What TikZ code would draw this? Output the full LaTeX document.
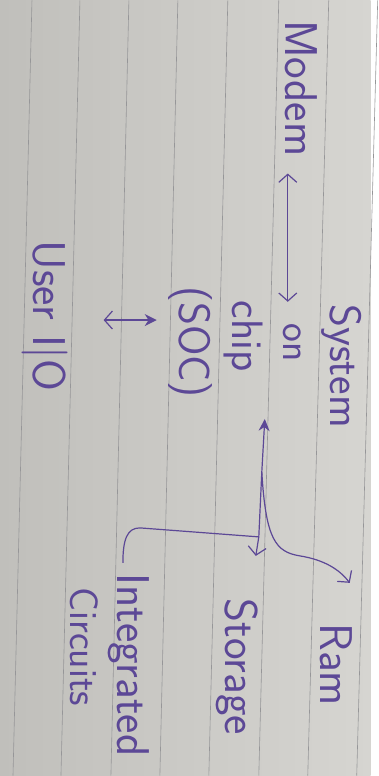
\documentclass[tikz,border=0pt]{standalone}
\usepackage{tikz}
\usetikzlibrary{arrows.meta,positioning}
\definecolor{ink}{RGB}{92,72,150}
\definecolor{paper}{RGB}{214,213,209}
\definecolor{paperdark}{RGB}{192,191,187}
\definecolor{ruleline}{RGB}{150,150,152}
\tikzstyle{word} = [rotate=-90, anchor=base, inner sep=0pt, text=ink, font=\sffamily\fontsize{44}{48}\selectfont]
\tikzstyle{bigword} = [word, font=\sffamily\fontsize{46}{50}\selectfont]
\tikzstyle{smallword} = [word, font=\sffamily\fontsize{40}{44}\selectfont]
\tikzstyle{arrow} = [line width=1.2pt, >={Straight Barb[length=8pt,width=18pt]}, color=ink]
\tikzstyle{wire} = [line width=1.2pt, color=ink]
\tikzstyle{ruling} = [line width=0.6pt, color=ruleline]

\begin{document}
\begin{tikzpicture}[x=1pt, y=-1pt]
% paper with ruled lines
\shade[left color=paperdark, right color=paper] (0,0) rectangle (371,776);
\foreach \t/\b in {32/13, 80/61, 129/111, 178/160, 228/209, 279/259, 329/308, 378/357}
  \draw[ruling] (\t,0) -- (\b,776);

% words
\node[bigword] (modem) at (286,88) {Modem};
\node[word] (sys) at (331,366) {System};
\node[smallword] (on) at (284,343) {on};
\node[word] (chip) at (233,336) {chip};
\node[word] (soc) at (180,342) {(SOC)};
\node[bigword] (user) at (34,316) {User I\textbar O};
\node[bigword] (ram) at (321,665) {Ram};
\node[bigword] (storage) at (226,667) {Storage};
\node[bigword] (ic) at (118,665) {Integrated};
\node[smallword] (circ) at (71,647) {Circuits};

% links
\draw[arrow, <->, shorten <=17pt, shorten >=22pt] ([xshift=2pt]modem.base east) -- ([xshift=4pt]on.base west);
\draw[arrow, <-{Stealth[length=12pt,width=12pt]}, shorten <=35pt, shorten >=12pt] ([yshift=-4pt]user.north) -- ([yshift=-4pt]user.north -| soc.south);

% tree below the chip
\coordinate (tip) at (265,419);
\coordinate (split) at (262,472);
\coordinate (fork) at (259,537);
\coordinate (stoend) at (256,556);
\coordinate (ramend) at (350,583);
\coordinate (icend) at (123,563);
\draw[arrow, {Stealth[length=12pt,width=11pt]}->] (tip) -- (split) -- (fork) -- (stoend);
\draw[arrow, ->] (split) .. controls (266,540) and (276,552) .. (300,556) .. controls (325,560) and (340,570) .. (ramend);
\draw[wire] (fork) -- (140,528) .. controls (127,528) and (123,540) .. (icend);
\end{tikzpicture}
\end{document}
